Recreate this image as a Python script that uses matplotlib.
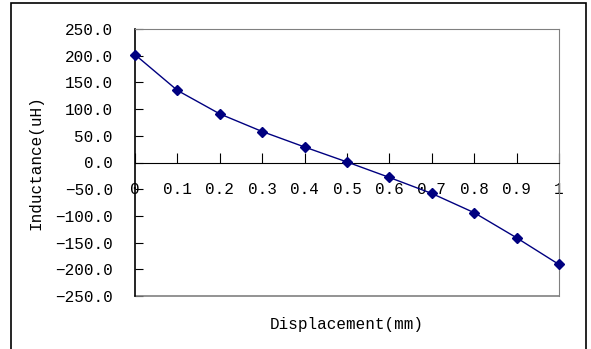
import numpy as np
import matplotlib.pyplot as plt
from matplotlib.patches import Rectangle

# data
displacement = [0, 0.1, 0.2, 0.3, 0.4, 0.5, 0.6, 0.7, 0.8, 0.9, 1.0]
inductance = [202, 135, 91, 58, 29, 1, -28, -58, -94, -141, -191]
x_ticks = [0, 0.1, 0.2, 0.3, 0.4, 0.5, 0.6, 0.7, 0.8, 0.9, 1.0]
x_tick_labels = ['0', '0.1', '0.2', '0.3', '0.4', '0.5', '0.6', '0.7', '0.8', '0.9', '1']
y_ticks = [-250, -200, -150, -100, -50, 0, 50, 100, 150, 200, 250]

plt.rcParams['font.family'] = ['Liberation Mono', 'DejaVu Sans']
W, H = 591, 349
fig = plt.figure(figsize=(W / 100, H / 100), dpi=100)

# outer chart frame
fig.patches.append(Rectangle((11 / W, -0.05), (586 - 11) / W, 1.05 - 3 / H,
                             transform=fig.transFigure, fill=False,
                             edgecolor='black', linewidth=1.2))

ax = fig.add_axes([135 / W, 1 - 296 / H, (559 - 135) / W, (296 - 29) / H])
ax.plot(displacement, inductance, color='#000080', linewidth=1,
        marker='D', markersize=5.5, markerfacecolor='#000080',
        markeredgecolor='#000080', clip_on=False, zorder=3)

ax.set_xlim(0, 1)
ax.set_ylim(-250, 250)
ax.set_xticks(x_ticks)
ax.set_xticklabels(x_tick_labels)
ax.set_yticks(y_ticks)
ax.set_yticklabels([f'{v:.1f}'.replace('-', '\u2212') for v in y_ticks])

ax.spines['bottom'].set_position(('data', 0))
ax.spines['bottom'].set_color('black')
ax.spines['left'].set_color('black')
ax.spines['left'].set_linewidth(1.2)
ax.spines['top'].set_color('#808080')
ax.spines['right'].set_color('#808080')
ax.axhline(-250, color='#808080', linewidth=1.2, clip_on=False)

ax.tick_params(axis='x', direction='in', length=7, pad=14, labelsize=11.5)
ax.tick_params(axis='y', direction='in', length=6, pad=16, labelsize=11.5)

fig.text(347 / W, 1 - 324 / H, 'Displacement(mm)', ha='center', va='center', fontsize=11.5)
fig.text(36 / W, 1 - 163 / H, 'Inductance(uH)', ha='center', va='center',
         rotation=90, fontsize=11.5)

fig.savefig('out.png', dpi=100)
